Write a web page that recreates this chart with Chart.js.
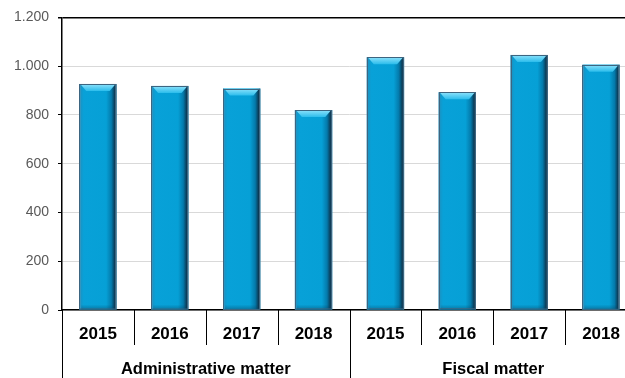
<!DOCTYPE html>
<html>
<head>
<meta charset="utf-8">
<script src="https://cdn.jsdelivr.net/npm/chart.js@4/dist/chart.umd.min.js"></script>
<style>
  html, body { margin: 0; padding: 0; background: #fff; overflow: hidden; }
  #wrap { width: 637px; height: 378px; }
</style>
</head>
<body>
<div id="wrap"><canvas id="matters" width="637" height="378"></canvas></div>
<script>
// cases per year, split by matter
const groups = ['Administrative matter', 'Fiscal matter'];
const years = ['2015', '2016', '2017', '2018'];
const adminValues = [927, 919, 908, 820];
const fiscalValues = [1037, 893, 1046, 1006];
const yTicks = [0, 200, 400, 600, 800, 1000, 1200];

const labels = years.concat(years);
const values = adminValues.concat(fiscalValues);

function thousands(v) {
    return String(v).replace(/\B(?=(\d{3})+(?!\d))/g, '.');
}

// cylinder-ish shading, top bevel and bottom shade on every bar
const bevelPlugin = {
    id: 'bevel',
    afterDatasetsDraw(chart) {
        const ctx = chart.ctx;
        chart.getDatasetMeta(0).data.forEach(function (bar) {
            const x0 = bar.x - bar.width / 2;
            const x1 = bar.x + bar.width / 2;
            const top = bar.y;
            const d = 7;
            ctx.save();
            const s = ctx.createLinearGradient(x0, 0, x1, 0);
            s.addColorStop(0, '#6f93ad');
            s.addColorStop(0.05, '#1596c8');
            s.addColorStop(0.12, '#08a1d8');
            s.addColorStop(0.72, '#06a0d6');
            s.addColorStop(0.86, '#047aab');
            s.addColorStop(0.95, '#0b3a55');
            s.addColorStop(1, '#5f7486');
            ctx.fillStyle = s;
            ctx.fillRect(x0, top, bar.width, bar.base - top);

            const g = ctx.createLinearGradient(0, top, 0, top + d);
            g.addColorStop(0, '#8fe2fb');
            g.addColorStop(1, '#2cbdec');
            ctx.fillStyle = g;
            ctx.beginPath();
            ctx.moveTo(x0 + 1, top);
            ctx.lineTo(x1 - 1, top);
            ctx.lineTo(x1 - d, top + d);
            ctx.lineTo(x0 + d, top + d);
            ctx.closePath();
            ctx.fill();

            const b = ctx.createLinearGradient(0, bar.base - 5, 0, bar.base);
            b.addColorStop(0, 'rgba(4,60,90,0)');
            b.addColorStop(1, 'rgba(4,60,90,0.4)');
            ctx.fillStyle = b;
            ctx.fillRect(x0 + 2, bar.base - 5, bar.width - 4, 5);

            ctx.strokeStyle = '#3d6580';
            ctx.lineWidth = 1;
            ctx.strokeRect(Math.round(x0) + 0.5, Math.round(top) + 0.5, Math.round(bar.width) - 1, bar.base - top - 1);
            ctx.restore();
        });
    }
};

// year dividers and the group row underneath
const groupAxisPlugin = {
    id: 'groupAxis',
    afterDraw(chart) {
        const ctx = chart.ctx;
        const area = chart.chartArea;
        const xs = chart.scales.x;
        const n = labels.length;
        const step = (xs.right - xs.left) / n;
        ctx.save();
        ctx.strokeStyle = '#000';
        ctx.lineWidth = 1;
        for (let i = 0; i <= n; i++) {
            const x = Math.round(xs.left + i * step) + 0.5;
            const edge = i % years.length === 0;
            ctx.beginPath();
            ctx.moveTo(x, area.bottom);
            ctx.lineTo(x, edge ? 378 : area.bottom + 35);
            ctx.stroke();
        }
        ctx.fillStyle = '#000';
        ctx.font = 'bold 16.5px "Liberation Sans", Arial, sans-serif';
        ctx.textAlign = 'center';
        ctx.textBaseline = 'middle';
        groups.forEach(function (name, gi) {
            const first = xs.getPixelForValue(gi * years.length);
            const last = xs.getPixelForValue(gi * years.length + years.length - 1);
            ctx.fillText(name, (first + last) / 2, 369);
        });
        ctx.restore();
    }
};

new Chart(document.getElementById('matters'), {
    type: 'bar',
    data: {
        labels: labels,
        datasets: [{
            data: values,
            backgroundColor: '#07a0d6',
            borderWidth: 0,
            barPercentage: 0.52,
            categoryPercentage: 1
        }]
    },
    options: {
        responsive: false,
        devicePixelRatio: 1,
        animation: false,
        layout: { padding: { top: 13.5, right: 0, left: 0, bottom: 0 } },
        plugins: {
            legend: { display: false },
            tooltip: { enabled: false }
        },
        scales: {
            x: {
                grid: { display: false, drawTicks: false },
                border: { display: true, color: '#000', width: 1.5 },
                ticks: {
                    color: '#000',
                    padding: 14,
                    font: { family: '"Liberation Sans", Arial, sans-serif', size: 17, weight: 'bold' }
                },
                afterFit(scale) { scale.height = 68; }
            },
            y: {
                min: 0,
                max: 1200,
                afterBuildTicks(scale) {
                    scale.ticks = yTicks.map(function (v) { return { value: v }; });
                },
                grid: {
                    color(ctx) { return ctx.tick && ctx.tick.value === 1200 ? '#000' : '#d9d9d9'; },
                    lineWidth(ctx) { return ctx.tick && ctx.tick.value === 1200 ? 1.5 : 1; },
                    tickColor: '#000',
                    tickLength: 4
                },
                border: { display: true, color: '#000', width: 1.5 },
                ticks: {
                    color: '#595959',
                    padding: 9,
                    font: { family: '"Liberation Sans", Arial, sans-serif', size: 14 },
                    callback(v) { return thousands(v); }
                },
                afterFit(scale) { scale.width = 62; }
            }
        }
    },
    plugins: [bevelPlugin, groupAxisPlugin]
});
</script>
</body>
</html>
